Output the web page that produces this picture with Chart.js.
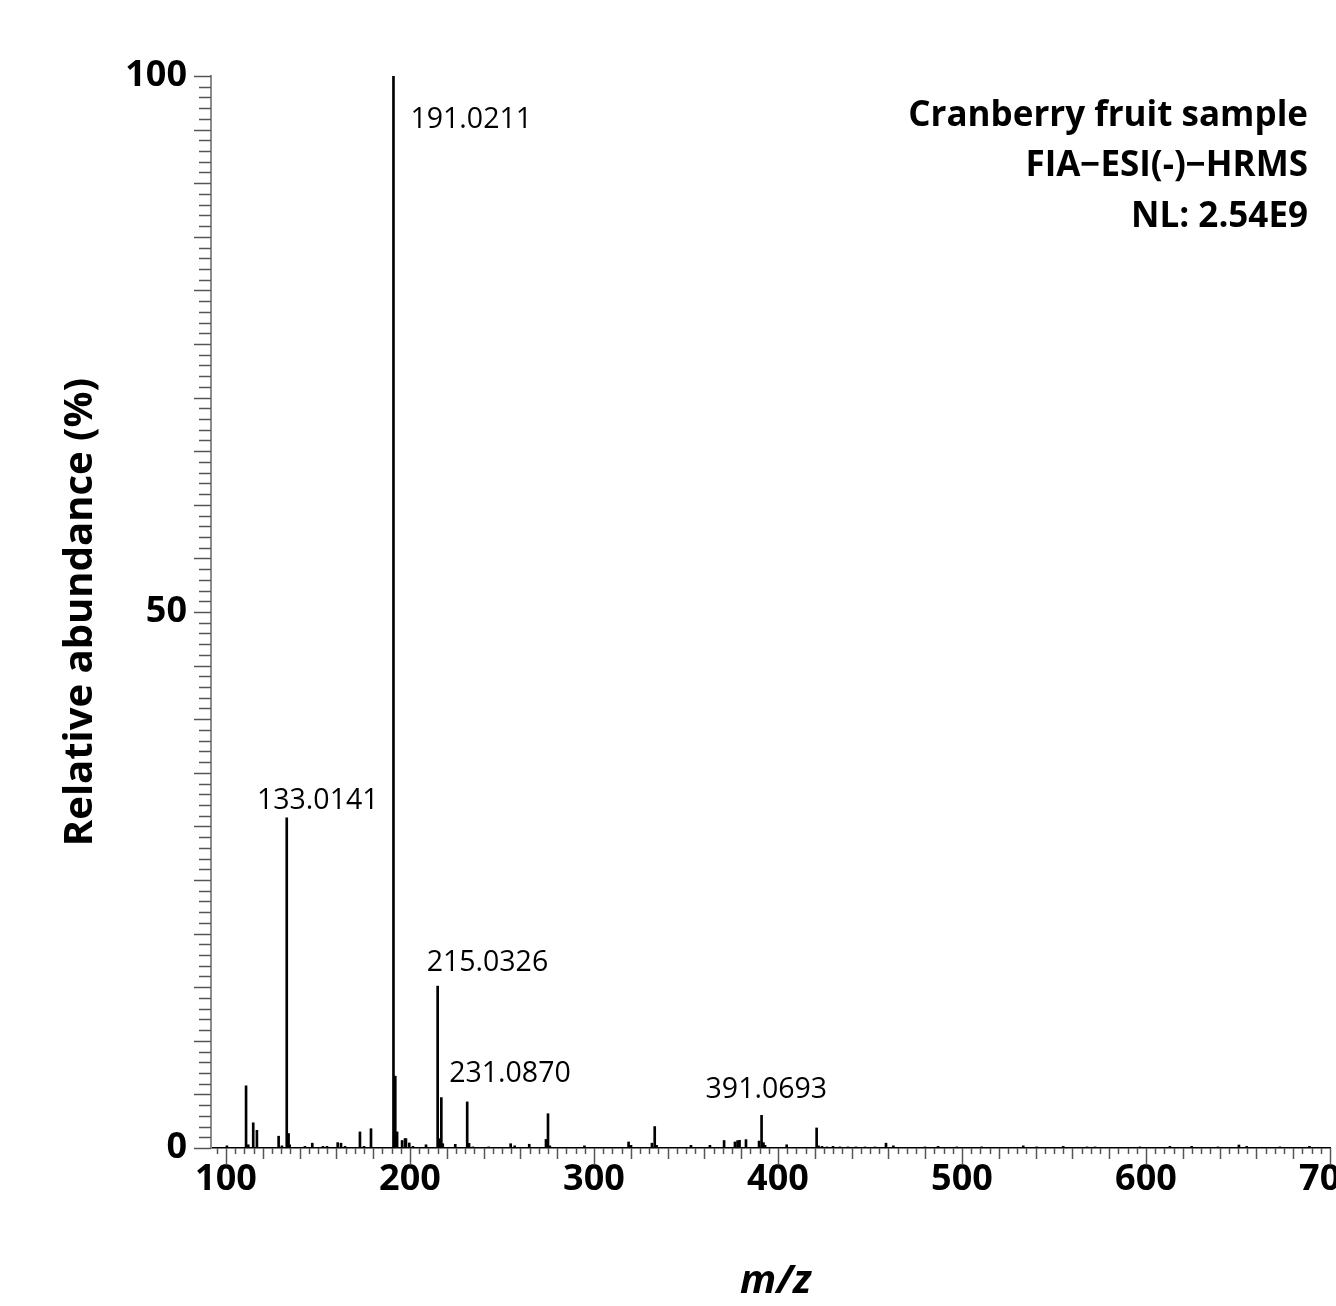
<!DOCTYPE html>
<html>
<head>
<meta charset="utf-8">
<title>Cranberry fruit sample - FIA-ESI(-)-HRMS</title>
<script src="https://cdn.jsdelivr.net/npm/chart.js@4.4.1/dist/chart.umd.min.js"></script>
<style>
  html, body { margin: 0; padding: 0; background: #fff; overflow: hidden; }
  #wrap { width: 1336px; height: 1306px; position: relative; }
</style>
</head>
<body>
<div id="wrap"><canvas id="msChart"></canvas></div>
<script>
// ---- data ----
const mzValues = [
  100.5, 110.9, 112.1, 114.8, 116.8, 128.6, 130.4, 133.0141, 134.0, 134.6,
  142.9, 146.9, 152.7, 154.9, 160.7, 162.5, 164.7, 172.8, 175.0, 178.8,
  191.0211, 192.0, 193.0, 195.7, 197.3, 197.8, 199.6, 201.6, 208.7,
  215.0326, 216.0, 217.03, 217.8, 224.6, 231.0870, 232.1, 234.2, 242.8,
  254.7, 256.9, 264.8, 273.9, 275.0, 276.0, 294.8, 318.8, 320.1,
  331.5, 333.0, 334.0, 352.7, 363.0, 370.7, 376.6, 378.0, 379.1, 382.6,
  389.7, 391.0693, 392.1, 393.0, 404.7, 421.0, 422.0, 423.9, 426.6, 429.9,
  433.7, 438.0, 442.4, 447.3, 452.7, 458.7, 462.7, 479.9, 487.0, 497.1,
  510.7, 533.3, 540.6, 555.0, 567.9, 572.3, 596.7, 613.0, 624.8, 639.1,
  650.5, 654.7, 672.8, 688.8
];
const abundance = [
  0.2, 5.8, 0.3, 2.35, 1.65, 1.1, 0.2, 30.8, 1.35, 0.3,
  0.15, 0.45, 0.15, 0.15, 0.5, 0.45, 0.15, 1.5, 0.15, 1.8,
  100, 6.7, 1.5, 0.7, 0.87, 0.87, 0.47, 0.15, 0.3,
  15.1, 0.87, 4.7, 0.4, 0.34, 4.3, 0.43, 0.1, 0.1,
  0.4, 0.2, 0.35, 0.8, 3.2, 0.2, 0.2, 0.56, 0.25,
  0.45, 2.0, 0.25, 0.25, 0.25, 0.7, 0.56, 0.68, 0.72, 0.78,
  0.65, 3.05, 0.5, 0.25, 0.3, 1.87, 0.2, 0.15, 0.1, 0.15,
  0.1, 0.1, 0.1, 0.1, 0.1, 0.45, 0.2, 0.1, 0.15, 0.1,
  0.1, 0.2, 0.1, 0.15, 0.1, 0.1, 0.1, 0.15, 0.15, 0.1,
  0.28, 0.15, 0.1, 0.15
];
const labelledPeaks = [133.0141, 191.0211, 215.0326, 231.0870, 391.0693];
const xTickLabels = [100, 200, 300, 400, 500, 600, 700];
const yTickLabels = [0, 50, 100];
const infoLines = ["Cranberry fruit sample", "FIA\u2212ESI(-)\u2212HRMS", "NL: 2.54E9"];

// label offsets from each peak top (px)
const labelOffsets = {
  "133.0141": { dx: 31, dy: -17, align: "center" },
  "191.0211": { dx: 17, dy: 44, align: "left" },
  "215.0326": { dx: -11, dy: -23, align: "left" },
  "231.0870": { dx: -18, dy: -28, align: "left" },
  "391.0693": { dx: -56, dy: -25, align: "left" }
};

const FONT = "'Open Sans', 'DejaVu Sans', sans-serif";

// minor / medium tick marks drawn on the outside of both axes
const tickMarks = {
  id: "tickMarks",
  afterDraw(chart) {
    const { ctx, scales: { x, y } } = chart;
    ctx.save();
    ctx.strokeStyle = "#555";
    ctx.lineWidth = 1.5;
    const base = y.getPixelForValue(0);
    for (let v = Math.ceil(x.min / 5) * 5; v <= x.max; v += 5) {
      const len = v % 100 === 0 ? 17 : (v % 20 === 0 ? 11 : 6);
      const px = Math.round(x.getPixelForValue(v)) + 0.5;
      ctx.beginPath();
      ctx.moveTo(px, base);
      ctx.lineTo(px, base + len);
      ctx.stroke();
    }
    const left = x.getPixelForValue(x.min);
    for (let v = 0; v <= 100; v++) {
      const len = v % 5 === 0 ? 17 : 12;
      const py = Math.round(y.getPixelForValue(v)) + 0.5;
      ctx.beginPath();
      ctx.moveTo(left - len, py);
      ctx.lineTo(left, py);
      ctx.stroke();
    }
    ctx.restore();
  }
};

// peak annotations and header text
const annotations = {
  id: "annotations",
  afterDraw(chart) {
    const { ctx, chartArea, scales: { x, y } } = chart;
    ctx.save();
    ctx.fillStyle = "#000";
    ctx.textBaseline = "middle";
    ctx.font = "28.5px " + FONT;
    labelledPeaks.forEach(mz => {
      const i = mzValues.indexOf(mz);
      const text = mz.toFixed(4);
      const off = labelOffsets[text];
      ctx.textAlign = off.align;
      ctx.fillText(text, x.getPixelForValue(mz) + off.dx, y.getPixelForValue(abundance[i]) + off.dy);
    });
    ctx.font = "bold 35px " + FONT;
    ctx.textAlign = "right";
    infoLines.forEach((line, k) => {
      ctx.fillText(line, chartArea.right - 22, chartArea.top + 40 + k * 50.5);
    });
    ctx.restore();
  }
};

const ctx = document.getElementById("msChart").getContext("2d");
const msChart = new Chart(ctx, {
  type: "bar",
  data: {
    datasets: [{
      data: mzValues.map((m, i) => ({ x: m, y: abundance[i] })),
      backgroundColor: "#000",
      borderWidth: 0,
      barThickness: 2
    }]
  },
  options: {
    responsive: true,
    maintainAspectRatio: false,
    animation: false,
    layout: { padding: { top: 76, right: 6, left: 0, bottom: 0 } },
    plugins: { legend: { display: false }, tooltip: { enabled: false } },
    scales: {
      x: {
        type: "linear",
        min: 91.85,
        max: 700,
        offset: false,
        afterBuildTicks: s => { s.ticks = xTickLabels.map(v => ({ value: v })); },
        afterFit: s => { s.height = 158; s.paddingLeft = 0; s.paddingRight = 0; },
        grid: { drawOnChartArea: false, drawTicks: false },
        border: { color: "#000", width: 1.5 },
        ticks: {
          autoSkip: false, maxRotation: 0, padding: 10, color: "#000",
          font: { family: FONT, size: 36, weight: "bold" }
        },
        title: {
          display: true, text: " m/z", color: "#000",
          font: { family: FONT, size: 40, weight: "bold", style: "italic" },
          padding: { top: 0, bottom: 0 }
        }
      },
      y: {
        min: 0,
        max: 100,
        afterBuildTicks: s => { s.ticks = yTickLabels.map(v => ({ value: v })); },
        afterFit: s => { s.width = 211; s.paddingTop = 0; s.paddingBottom = 0; },
        grid: { drawOnChartArea: false, drawTicks: false },
        border: { color: "#8c8c8c", width: 2 },
        ticks: {
          padding: 24, color: "#000",
          font: { family: FONT, size: 36, weight: "bold" }
        },
        title: {
          display: true, text: "Relative abundance (%)", color: "#000",
          font: { family: FONT, size: 40, weight: "bold" },
          padding: { top: 57, bottom: 0 }
        }
      }
    }
  },
  plugins: [tickMarks, annotations]
});
</script>
</body>
</html>
